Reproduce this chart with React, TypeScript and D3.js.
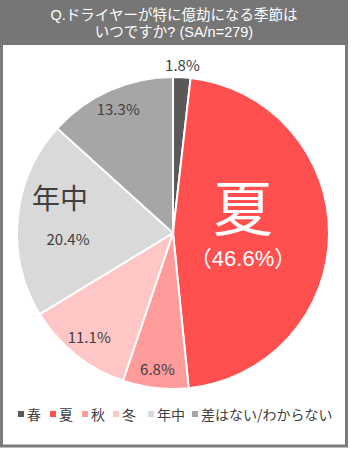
import React from "react";
import * as d3 from "d3";

const categories = ["春", "夏", "秋", "冬", "年中", "差はない/わからない"];
const values = [1.8, 46.6, 6.8, 11.1, 20.4, 13.3];
const colors = ["#595959", "#ff4f4f", "#ff9b9b", "#ffc6c6", "#d9d9d9", "#a6a6a6"];
const titleLines = ["Q.ドライヤーが特に億劫になる季節は", "いつですか? (SA/n=279)"];

const W = 351;
const H = 450;
const FONT = "'Noto Sans CJK JP', 'Noto Sans', sans-serif";
const TIGHT = "'Liberation Sans', 'Noto Sans CJK JP', sans-serif";

export default function App() {
  const cx = 173;
  const cy = 233;
  const r = 156;
  const pie = d3.pie<number>().sort(null).value((d) => d);
  const arcs = pie(values);
  const arc = d3.arc<d3.PieArcDatum<number>>().innerRadius(0).outerRadius(r);

  const labelAt = (i: number, rr: number) => {
    const a = arcs[i];
    const mid = (a.startAngle + a.endAngle) / 2;
    return [cx + rr * Math.sin(mid), cy - rr * Math.cos(mid)];
  };

  const [x0, y0] = labelAt(0, 167);
  const [x2, y2] = labelAt(2, 138);
  const [x3, y3] = labelAt(3, 134);
  const [x5, y5] = labelAt(5, 135);

  const legendX = [18, 50, 82, 113, 148, 192];

  return (
    <div style={{ position: "absolute", left: 0, top: 0 }}>
      <svg width={W} height={H} style={{ display: "block", fontFamily: FONT }}>
        <rect x={0} y={0} width={W} height={H} fill="#ffffff" />
        <rect x={1.5} y={1} width={345} height={445} fill="#ffffff" stroke="#7a7a7a" strokeWidth={3} />
        <rect x={0} y={0} width={348} height={45} fill="#767676" />
        <text x={174} y={20} textAnchor="middle" fill="#ffffff" fontSize={14.5} fontFamily={TIGHT}>
          {titleLines[0]}
        </text>
        <text x={174} y={37} textAnchor="middle" fill="#ffffff" fontSize={14.5} fontFamily={TIGHT}>
          {titleLines[1]}
        </text>
        <g transform={`translate(${cx},${cy})`}>
          {arcs.map((a, i) => (
            <path key={i} d={arc(a) || ""} fill={colors[i]} stroke="#ffffff" strokeWidth={2} />
          ))}
        </g>
        <text x={x0} y={y0 + 5} textAnchor="middle" fill="#404040" fontSize={15}>
          {values[0].toFixed(1)}%
        </text>
        <text x={243} y={231} textAnchor="middle" fill="#ffffff" fontSize={60} fontFamily={TIGHT}>
          {categories[1]}
        </text>
        <text x={243} y={266} textAnchor="middle" fill="#ffffff" fontSize={22} fontFamily={TIGHT}>
          （{values[1].toFixed(1)}%）
        </text>
        <text x={x2} y={y2 + 5} textAnchor="middle" fill="#404040" fontSize={15}>
          {values[2].toFixed(1)}%
        </text>
        <text x={x3} y={y3 + 5} textAnchor="middle" fill="#404040" fontSize={15}>
          {values[3].toFixed(1)}%
        </text>
        <text x={60} y={209} textAnchor="middle" fill="#404040" fontSize={28}>
          {categories[4]}
        </text>
        <text x={68} y={245} textAnchor="middle" fill="#404040" fontSize={15}>
          {values[4].toFixed(1)}%
        </text>
        <text x={x5} y={y5 + 5} textAnchor="middle" fill="#404040" fontSize={15}>
          {values[5].toFixed(1)}%
        </text>
        <g>
          {categories.map((c, i) => (
            <g key={c} transform={`translate(${legendX[i]},415)`}>
              <rect x={0} y={-4} width={6} height={6} fill={colors[i]} />
              <text x={9} y={5} fill="#404040" fontSize={14}>
                {c}
              </text>
            </g>
          ))}
        </g>
      </svg>
    </div>
  );
}
